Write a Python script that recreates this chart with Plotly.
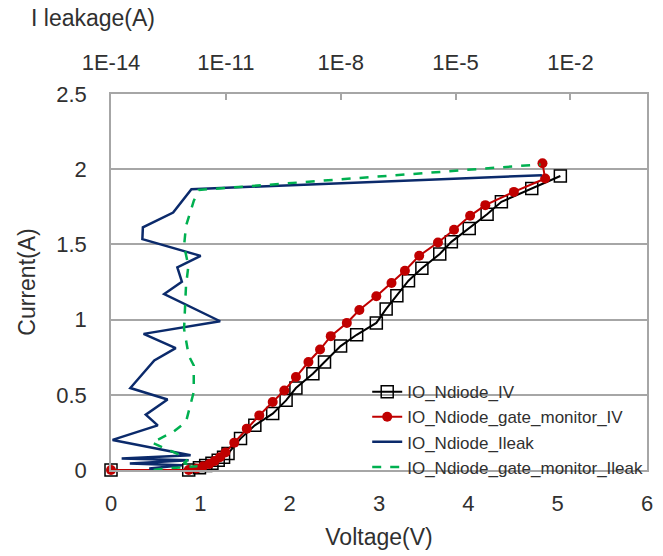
import plotly.graph_objects as go

# ---- data ----
iv_v = [0, 0.87, 0.99, 1.06, 1.13, 1.20, 1.26, 1.31, 1.45, 1.61, 1.81, 1.96, 2.07, 2.26, 2.39, 2.57,
        2.75, 2.97, 3.08, 3.20, 3.33, 3.48, 3.68, 3.81, 4.01, 4.21, 4.37, 4.71, 5.03]
iv_i = [0, 0, 0.015, 0.03, 0.045, 0.065, 0.085, 0.109, 0.209, 0.297, 0.375, 0.463, 0.545, 0.640, 0.718, 0.824,
        0.899, 0.978, 1.071, 1.159, 1.259, 1.341, 1.436, 1.517, 1.606, 1.701, 1.783, 1.871, 1.955]

gm_v = [0, 0.87, 0.96, 1.03, 1.10, 1.16, 1.22, 1.28, 1.38, 1.52, 1.66, 1.81, 1.94, 2.07, 2.21, 2.34,
        2.46, 2.64, 2.78, 2.97, 3.14, 3.29, 3.45, 3.66, 3.84, 4.02, 4.19, 4.51, 4.86, 4.83]
gm_i = [0, 0, 0.01, 0.025, 0.04, 0.06, 0.085, 0.116, 0.182, 0.275, 0.363, 0.452, 0.529, 0.618, 0.718, 0.801,
        0.890, 0.978, 1.064, 1.155, 1.243, 1.325, 1.424, 1.513, 1.597, 1.690, 1.761, 1.849, 1.938, 2.039]

leak_i = [0, 0.010, 0.032, 0.043, 0.065, 0.076, 0.098, 0.200, 0.297, 0.368, 0.469, 0.545, 0.728, 0.810,
          0.905, 0.989, 1.170, 1.252, 1.347, 1.424, 1.535, 1.613, 1.712, 1.867, 1.960]
leak_a = [2e-13, 1.0e-13, 7.2e-13, 3.1e-14, 1.07e-12, 1.9e-14, 1.2e-12, 1.1e-14, 1.66e-13, 8.1e-14, 3.0e-13,
          3.2e-14, 1.35e-13, 4.9e-13, 7.1e-14, 7.1e-12, 2.45e-13, 7.1e-13, 5.4e-13, 2.2e-12, 6.6e-14,
          6.8e-14, 4.2e-13, 1.26e-12, 1.8e-3]

gml_i = [0, 0.010, 0.025, 0.045, 0.063, 0.098, 0.182, 0.253, 0.320, 0.519, 0.695, 0.761, 0.938, 1.071,
         1.225, 1.358, 1.491, 1.623, 1.789, 1.862, 2.032]
gml_a = [1.3e-13, 2.5e-13, 1.8e-12, 8e-13, 9.5e-13, 6.6e-13, 1.17e-13, 4.2e-13, 9.1e-13, 1.45e-12,
         1.45e-12, 1.07e-12, 8.1e-13, 8.5e-13, 9.1e-13, 1.05e-12, 8.1e-13, 9.1e-13, 1.45e-12, 1.95e-12, 1.66e-3]

top_ticks = [1e-14, 1e-11, 1e-8, 1e-5, 1e-2]
top_labels = ["1E-14", "1E-11", "1E-8", "1E-5", "1E-2"]

FONT = "Liberation Sans, Arial, sans-serif"
TXT = "#303030"
GRID = "#a6a6a6"

fig = go.Figure()
fig.add_trace(go.Scatter(x=iv_v, y=iv_i, name="IO_Ndiode_IV", mode="lines+markers", cliponaxis=False,
                         line=dict(color="#000000", width=2),
                         marker=dict(symbol="square-open", size=12, color="#000000", line=dict(width=1.5))))
fig.add_trace(go.Scatter(x=gm_v, y=gm_i, name="IO_Ndiode_gate_monitor_IV", mode="lines+markers", cliponaxis=False,
                         line=dict(color="#c00000", width=2),
                         marker=dict(symbol="circle", size=10, color="#c00000")))
fig.add_trace(go.Scatter(x=leak_a, y=leak_i, name="IO_Ndiode_Ileak", mode="lines", xaxis="x2",
                         line=dict(color="#0b2a6b", width=2.5)))
fig.add_trace(go.Scatter(x=gml_a, y=gml_i, name="IO_Ndiode_gate_monitor_Ileak", mode="lines", xaxis="x2",
                         line=dict(color="#00b050", width=2.5, dash="dash")))

fig.update_layout(
    width=663, height=556,
    margin=dict(l=111, r=10, t=94, b=84),
    paper_bgcolor="white", plot_bgcolor="white",
    font=dict(family=FONT, color=TXT, size=20),
    xaxis=dict(range=[0, 6], dtick=1, showgrid=False, zeroline=False,
               showline=True, linecolor=GRID, linewidth=1.5,
               ticks="outside", ticklen=0, ticklabelstandoff=13,
               tickfont=dict(size=22),
               title=dict(text="Voltage(V)", font=dict(size=23), standoff=14)),
    xaxis2=dict(type="log", range=[-14, 0], overlaying="x", side="top", anchor="y",
                tickvals=top_ticks, ticktext=top_labels, showgrid=False, zeroline=False,
                showline=True, linecolor=GRID, linewidth=1.5,
                ticks="inside", ticklen=6, tickcolor=GRID, tickwidth=1.5,
                ticklabelstandoff=13, tickfont=dict(size=22)),
    yaxis=dict(range=[0, 2.5], dtick=0.5, showgrid=True, gridcolor=GRID, gridwidth=1.5,
               zeroline=False, showline=True, linecolor=GRID, linewidth=1.5, mirror=True,
               ticks="outside", ticklen=0, ticklabelstandoff=18,
               tickfont=dict(size=22),
               title=dict(text="Current(A)", font=dict(size=23), standoff=14)),
    legend=dict(x=0.478, y=0.255, xanchor="left", yanchor="top",
                bgcolor="rgba(0,0,0,0)", font=dict(size=17, color=TXT),
                tracegroupgap=0, itemwidth=30),
    showlegend=True,
    annotations=[dict(text="I leakage(A)", xref="paper", yref="paper",
                      x=-0.153, y=1.203, xanchor="left", yanchor="middle",
                      showarrow=False, font=dict(size=23, color=TXT))],
)

fig.write_html("out.html")
